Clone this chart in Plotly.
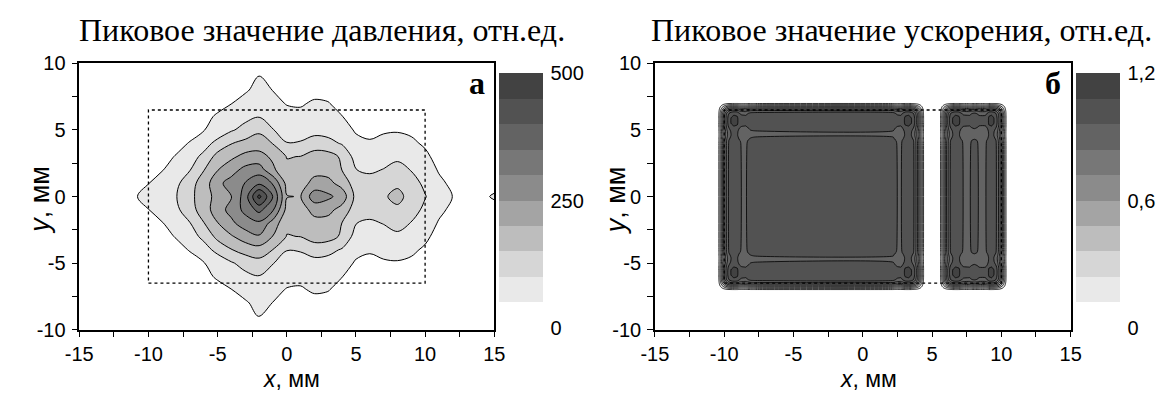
import numpy as np
import plotly.graph_objects as go

# ---------------- Panel (а): peak pressure, rel. units ----------------
pressure_x_mm = list(range(-12, 16))
pressure_y_mm = list(range(-10, 11))
# rows run from y = -10 mm (first) to y = +10 mm (last)
pressure_rows = [
    [0, 0, 0, 0, 0, 0, 0, 0, 5, 15, 30, 18, 5, 2, 5, 2, 0, 0, 0, 0, 0, 0, 0, 0, 0, 0, 0, 0],
    [0, 0, 0, 0, 0, 0, 0, 8, 20, 30, 51, 35, 20, 15, 20, 18, 8, 0, 0, 0, 0, 0, 0, 0, 0, 0, 0, 0],
    [0, 0, 0, 0, 0, 2, 10, 22, 35, 44, 65, 49, 35, 30, 38, 35, 22, 10, 2, 0, 2, 0, 0, 0, 0, 0, 0, 0],
    [0, 0, 0, 0, 2, 12, 25, 38, 49, 68, 80, 60, 48, 46, 55, 52, 35, 20, 10, 12, 15, 10, 2, 0, 0, 0, 0, 0],
    [0, 0, 0, 2, 12, 25, 40, 55, 75, 88, 98, 80, 62, 60, 72, 68, 51, 35, 22, 30, 32, 25, 12, 0, 0, 0, 0, 0],
    [0, 0, 2, 12, 25, 38, 48, 70, 95, 118, 132, 102, 75, 75, 85, 80, 65, 46, 38, 45, 46, 40, 25, 8, 0, 0, 0, 0],
    [0, 5, 15, 28, 40, 52, 80, 115, 148, 170, 180, 149, 102, 105, 120, 115, 95, 60, 55, 62, 68, 60, 42, 18, 5, 0, 0, 0],
    [0, 12, 28, 40, 52, 80, 112, 165, 195, 225, 245, 198, 148, 151, 175, 170, 142, 80, 75, 80, 88, 75, 62, 30, 12, 5, 0, 0],
    [2, 20, 40, 48, 72, 98, 148, 198, 240, 275, 290, 230, 160, 170, 185, 180, 149, 101, 92, 102, 120, 98, 80, 45, 25, 15, 10, 15],
    [5, 30, 49, 68, 88, 132, 172, 230, 265, 315, 365, 305, 185, 180, 215, 215, 180, 125, 120, 128, 138, 115, 92, 62, 38, 20, 22, 35],
    [10, 46, 65, 82, 98, 135, 180, 215, 248, 325, 465, 348, 202, 198, 280, 260, 230, 135, 130, 142, 168, 128, 102, 78, 49, 30, 40, 55],
    [5, 30, 49, 68, 88, 132, 172, 238, 268, 302, 340, 295, 185, 180, 215, 215, 180, 125, 120, 128, 138, 115, 92, 62, 38, 20, 22, 35],
    [2, 20, 40, 48, 72, 98, 148, 198, 232, 265, 275, 210, 160, 170, 185, 180, 149, 101, 92, 102, 120, 98, 80, 45, 25, 15, 10, 15],
    [0, 12, 28, 40, 52, 80, 112, 168, 190, 215, 218, 190, 148, 151, 175, 170, 142, 80, 75, 80, 88, 75, 62, 30, 12, 5, 0, 0],
    [0, 5, 15, 28, 40, 52, 80, 115, 148, 165, 175, 148, 102, 105, 120, 115, 95, 60, 55, 62, 68, 60, 42, 18, 5, 0, 0, 0],
    [0, 0, 2, 12, 25, 38, 48, 70, 95, 115, 140, 102, 75, 75, 85, 80, 65, 46, 38, 45, 46, 40, 25, 8, 0, 0, 0, 0],
    [0, 0, 0, 2, 12, 25, 40, 55, 75, 88, 98, 80, 62, 60, 72, 68, 51, 35, 22, 30, 32, 25, 12, 0, 0, 0, 0, 0],
    [0, 0, 0, 0, 2, 12, 25, 38, 49, 68, 80, 60, 48, 46, 55, 52, 35, 20, 10, 12, 15, 10, 2, 0, 0, 0, 0, 0],
    [0, 0, 0, 0, 0, 2, 10, 22, 35, 44, 65, 49, 35, 30, 38, 35, 22, 10, 2, 0, 2, 0, 0, 0, 0, 0, 0, 0],
    [0, 0, 0, 0, 0, 0, 0, 8, 20, 30, 51, 35, 20, 15, 20, 18, 8, 0, 0, 0, 0, 0, 0, 0, 0, 0, 0, 0],
    [0, 0, 0, 0, 0, 0, 0, 0, 5, 15, 30, 18, 5, 2, 5, 2, 0, 0, 0, 0, 0, 0, 0, 0, 0, 0, 0, 0],
]
pressure_levels = dict(start=50, end=450, size=50)
pressure_range = [0, 500]
pressure_ticks = [0, 250, 500]

# ---------------- Panel (б): peak acceleration, rel. units ----------------
# cross-section along x (absolute values at y = 0)
accel_x_mm = [-15.0, -10.55, -10.4, -10.25, -10.1, -9.95, -9.8, -9.65, -9.5, -9.3, -9.05, -8.9, -8.75, -8.45, -8.3, -8.1, -7.8,
              2.2, 2.35, 2.5, 2.75, 2.9, 3.05, 3.3, 3.5, 3.65, 3.8, 3.95, 4.1, 4.25, 4.4, 4.55,
              5.45, 5.6, 5.75, 5.9, 6.05, 6.2, 6.35, 6.5, 6.7, 6.95, 7.1, 7.25, 7.7, 7.85, 8.05, 8.25, 8.4, 8.85,
              9.0, 9.1, 9.3, 9.45, 9.6, 9.75, 9.9, 10.05, 10.2, 10.35, 10.5, 15.0]
accel_x_profile = [0, 0, 0.1, 0.3, 0.52, 0.72, 0.88, 0.98, 1.04, 1.06, 1.05, 0.98, 0.95, 0.94, 0.97, 1.01, 1.02,
                   1.02, 0.98, 0.95, 0.94, 0.99, 1.05, 1.06, 1.04, 0.98, 0.88, 0.72, 0.52, 0.3, 0.1, 0,
                   0, 0.1, 0.3, 0.52, 0.72, 0.88, 0.98, 1.04, 1.06, 1.05, 0.99, 0.95, 0.94, 0.97, 0.99, 0.97, 0.94, 0.94,
                   0.99, 1.05, 1.06, 1.04, 0.98, 0.88, 0.72, 0.52, 0.3, 0.1, 0, 0]
# relative variation along y
accel_y_mm = [-10.0, -7.15, -7.0, -6.85, -6.7, -6.55, -6.4, -6.25, -6.1, -5.85, -5.55, -5.3, -5.1, -4.9, -4.6, -4.4, -4.2, -4.0,
              4.0, 4.2, 4.4, 4.6, 4.9, 5.1, 5.3, 5.55, 5.85, 6.1, 6.25, 6.4, 6.55, 6.7, 6.85, 7.0, 7.15, 10.0]
accel_y_profile = [0, 0, 0.1, 0.3, 0.52, 0.72, 0.88, 0.98, 1.02, 1.045, 1.045, 1.02, 0.97, 0.935, 0.925, 0.95, 0.99, 1.0,
                   1.0, 0.99, 0.95, 0.925, 0.935, 0.97, 1.02, 1.045, 1.045, 1.02, 0.98, 0.88, 0.72, 0.52, 0.3, 0.1, 0, 0]
accel_levels = dict(start=0.12, end=1.08, size=0.12)
accel_range = [0, 1.2]
accel_ticks = [0, 0.6, 1.2]

# transducer aperture outline (dotted frame), mm
aperture_x_mm = [-10, 10]
aperture_y_mm = [-6.5, 6.5]

# grey shades of the ten bands, lowest band first
band_colors = ['#ffffff', '#e9e9e9', '#d6d6d6', '#bdbdbd', '#a4a4a4',
               '#8b8b8b', '#777777', '#636363', '#525252', '#424242']

titles = ['Пиковое значение давления, отн.ед.', 'Пиковое значение ускорения, отн.ед.']
panel_letters = ['а', 'б']
axis_ticks = list(range(-15, 16, 5))
y_axis_ticks = list(range(-10, 11, 5))

W, H = 1176, 394
SANS = 'Liberation Sans, Arial, sans-serif'
SERIF = 'Liberation Serif, Times New Roman, serif'


def step_scale(colors):
    n = len(colors)
    scale = []
    for i, c in enumerate(colors):
        scale.append([i / n, c])
        scale.append([(i + 1) / n, c])
    return scale


def px_x(p):
    return p / W


def px_y(p):
    return 1 - p / H


accel_field = np.outer(accel_y_profile, accel_x_profile)

fig = go.Figure()

panels = [
    dict(x=pressure_x_mm, y=pressure_y_mm, z=pressure_rows, lev=pressure_levels, rng=pressure_range,
         ticks=pressure_ticks, left=66.7, right=490.7, cbx=496, lw=1.0, sm=1.0),
    dict(x=accel_x_mm, y=accel_y_mm, z=accel_field, lev=accel_levels, rng=accel_range,
         ticks=accel_ticks, left=654.8, right=1079.6, cbx=1085, lw=0.8, sm=0.6),
]
top_px, bot_px = 55.5, 337.5

for i, p in enumerate(panels):
    ax = '' if i == 0 else str(i + 1)
    fig.add_trace(go.Contour(
        x=p['x'], y=p['y'], z=p['z'],
        xaxis='x' + ax, yaxis='y' + ax,
        contours=dict(start=p['lev']['start'], end=p['lev']['end'], size=p['lev']['size'],
                      coloring='fill', showlines=True),
        line=dict(color='black', width=p['lw'], smoothing=p['sm']),
        colorscale=step_scale(band_colors),
        showscale=False,
        hoverinfo='skip',
    ))
    # dotted aperture frame
    fx = [aperture_x_mm[0], aperture_x_mm[1], aperture_x_mm[1], aperture_x_mm[0], aperture_x_mm[0]]
    fy = [aperture_y_mm[0], aperture_y_mm[0], aperture_y_mm[1], aperture_y_mm[1], aperture_y_mm[0]]
    fig.add_trace(go.Scatter(x=fx, y=fy, mode='lines', xaxis='x' + ax, yaxis='y' + ax,
                             line=dict(color='black', width=1.3, dash='dot'),
                             hoverinfo='skip', showlegend=False))
    # stepped grey scale bar for the same bands
    fig.add_trace(go.Scatter(
        x=[None], y=[None], mode='markers', xaxis='x' + ax, yaxis='y' + ax,
        hoverinfo='skip', showlegend=False,
        marker=dict(color=[p['rng'][0]], cmin=p['rng'][0], cmax=p['rng'][1],
                    colorscale=step_scale(band_colors), showscale=True,
                    colorbar=dict(
                        x=px_x(p['cbx']), xanchor='left', xpad=0, ypad=0,
                        y=px_y(201), yanchor='middle', len=255, lenmode='pixels',
                        thickness=44, thicknessmode='pixels', outlinewidth=0,
                        ticks='outside', ticklen=4, tickcolor='rgba(0,0,0,0)',
                        tickvals=p['ticks'],
                        tickfont=dict(family=SANS, size=20, color='black'),
                    )),
    ))

    common = dict(showline=True, linecolor='black', linewidth=1.5, mirror=True,
                  ticks='outside', ticklen=6, tickwidth=1.2, tickcolor='black',
                  showgrid=False, zeroline=False,
                  tickfont=dict(family=SANS, size=20, color='black'))
    fig.update_layout(**{
        'xaxis' + ax: dict(domain=[px_x(p['left']), px_x(p['right'])], range=[-15, 15],
                           anchor='y' + ax, tickvals=axis_ticks, ticktext=[str(v) for v in axis_ticks],
                           minor=dict(tickvals=[v + 2.5 for v in axis_ticks[:-1]], ticks='outside',
                                      ticklen=6, tickwidth=1.2, tickcolor='black', showgrid=False),
                           ticklabelstandoff=0, **common),
        'yaxis' + ax: dict(domain=[px_y(bot_px), px_y(top_px)], range=[-10, 10],
                           anchor='x' + ax, tickvals=y_axis_ticks, ticktext=[str(v) for v in y_axis_ticks],
                           minor=dict(tickvals=[v + 2.5 for v in y_axis_ticks[:-1]], ticks='outside',
                                      ticklen=6, tickwidth=1.2, tickcolor='black', showgrid=False),
                           ticklabelstandoff=2, **common),
    })

annotations = []
title_cx = [314.5, 907]
letter_cx = [473.5, 1061.5]
xtitle_cx = [284, 873]
ytitle_cx = [26.5, 614.5]
for i in range(2):
    annotations.append(dict(text=titles[i], x=px_x(title_cx[i]), y=px_y(20), xref='paper', yref='paper',
                            xanchor='center', yanchor='middle', showarrow=False,
                            font=dict(family=SERIF, size=32, color='black')))
    annotations.append(dict(text='<b>' + panel_letters[i] + '</b>', x=px_x(letter_cx[i]), y=px_y(76),
                            xref='paper', yref='paper', xanchor='center', yanchor='middle', showarrow=False,
                            font=dict(family=SERIF, size=32, color='black')))
    annotations.append(dict(text='<i>x</i>, мм', x=px_x(xtitle_cx[i]), y=px_y(375), xref='paper', yref='paper',
                            xanchor='center', yanchor='top', showarrow=False, borderpad=0,
                            font=dict(family=SANS, size=23, color='black')))
    annotations.append(dict(text='<i>y</i>, мм', x=px_x(ytitle_cx[i]), y=px_y(200), xref='paper', yref='paper',
                            xanchor='center', yanchor='middle', showarrow=False, textangle=-90,
                            font=dict(family=SANS, size=27, color='black')))

fig.update_layout(width=W, height=H, margin=dict(l=0, r=0, t=0, b=0),
                  paper_bgcolor='white', plot_bgcolor='white', separators=', ',
                  showlegend=False, annotations=annotations,
                  font=dict(family=SANS, size=20, color='black'))

fig.write_html('out.html')
